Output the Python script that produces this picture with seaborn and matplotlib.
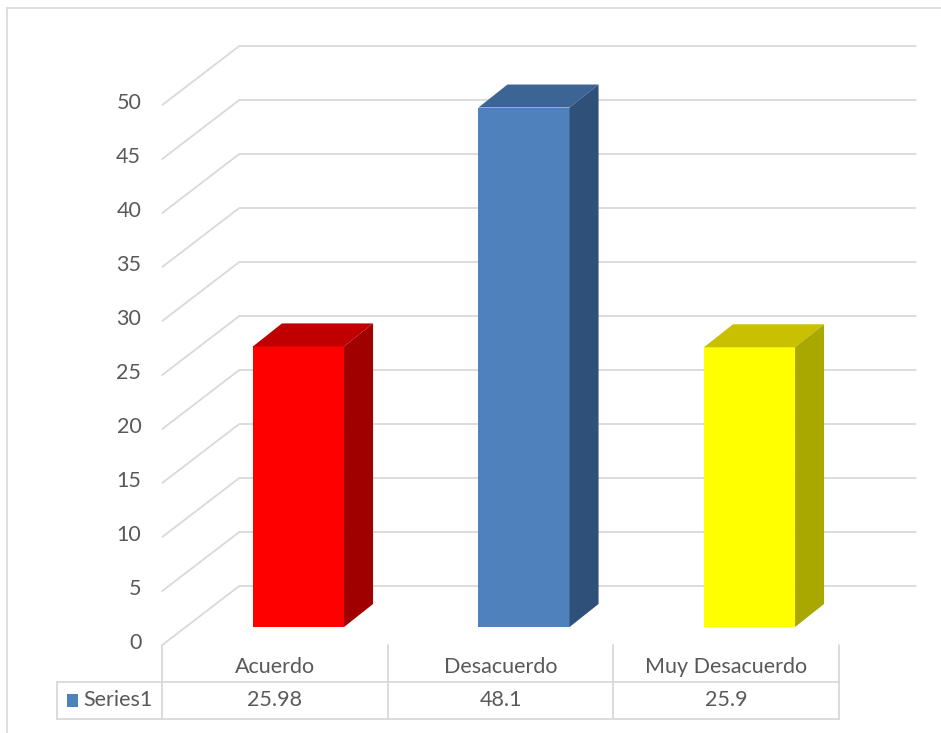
import matplotlib
matplotlib.use("Agg")
import matplotlib.pyplot as plt
import seaborn as sns
import pandas as pd
from matplotlib.patches import Polygon, Rectangle
from matplotlib.lines import Line2D

categories = ["Acuerdo", "Desacuerdo", "Muy Desacuerdo"]
values = [25.98, 48.1, 25.9]
value_labels = ["25.98", "48.1", "25.9"]
series_name = "Series1"
y_ticks = list(range(0, 55, 5))

front_colors = ["#FF0000", "#4F81BD", "#FFFF00"]
top_colors = ["#C00000", "#3C6494", "#C8C000"]
side_colors = ["#A00000", "#2F5079", "#A8A800"]
key_color = "#4F81BD"
grid_color = "#D9D9D9"
text_color = "#595959"
font_size = 15.5

sns.set_theme(style="white")
plt.rcParams["font.family"] = ["Lato", "DejaVu Sans"]

W, H = 941, 733
fig = plt.figure(figsize=(W / 100, H / 100), dpi=100)
fig.patch.set_facecolor("white")

# The axes span the front plane of the columns: x -0.5..2.5, y 0..50
ax_left, ax_bottom, ax_w, ax_h = 185.75, 106.0, 676.5, 540.0
ax = fig.add_axes([ax_left / W, ax_bottom / H, ax_w / W, ax_h / H])
df = pd.DataFrame({"cat": categories, "val": values})
sns.barplot(data=df, x="cat", y="val", hue="cat", palette=front_colors,
            width=0.404, ax=ax, legend=False, saturation=1, linewidth=0)
ax.set_xlim(-0.5, 2.5)
ax.set_ylim(0, 50)
ax.axis("off")

sx = ax_w / 3.0     # pixels per category unit
sy = ax_h / 50.0    # pixels per value unit


def shift(px, py):
    """Screen-pixel offset expressed in data units."""
    return px / sx, py / sy


def to_data(px, py_top):
    """Pixel position (from top-left of the figure) to data coordinates."""
    return (px - ax_left) / sx - 0.5, (H - ax_bottom - py_top) / sy


# oblique projection of the depth axis
back_dx, back_dy = shift(53.5, 41)     # back wall relative to the column front plane
front_dx, front_dy = shift(-23.5, -18)  # front floor edge relative to the column front plane
bar_dx, bar_dy = shift(29, 23)          # column depth

lw = 1.3
for v in y_ticks:
    xb0, yb = -0.5 + back_dx, v + back_dy
    xb1 = 2.5 + back_dx
    xf, yf = -0.5 + front_dx, v + front_dy
    ax.add_line(Line2D([xf, xb0, xb1], [yf, yb, yb], color=grid_color, lw=lw,
                       zorder=0.5, clip_on=False, solid_joinstyle="miter"))
    ax.text(xf - 21 / sx, yf + 2 / sy, str(v), ha="right", va="center",
            fontsize=font_size, color=text_color, clip_on=False)

# side and top faces of each column
for p, tc, sc in zip(ax.patches, top_colors, side_colors):
    x0, w, h = p.get_x(), p.get_width(), p.get_height()
    p.set_zorder(3)
    top = Polygon([(x0, h), (x0 + w, h), (x0 + w + bar_dx, h + bar_dy), (x0 + bar_dx, h + bar_dy)],
                  closed=True, facecolor=tc, edgecolor="none", zorder=3, clip_on=False)
    side = Polygon([(x0 + w, 0), (x0 + w, h), (x0 + w + bar_dx, h + bar_dy), (x0 + w + bar_dx, bar_dy)],
                   closed=True, facecolor=sc, edgecolor="none", zorder=3, clip_on=False)
    ax.add_patch(top)
    ax.add_patch(side)

# data table under the plot area
col_edges = [e + front_dx for e in (-0.5, 0.5, 1.5, 2.5)]
y_top = front_dy
_, y_mid = to_data(0, 682)
_, y_bot = to_data(0, 719)
x_first, _ = to_data(57, 0)
tkw = dict(color=grid_color, lw=lw, clip_on=False, zorder=1)
for xe in col_edges:
    ax.add_line(Line2D([xe, xe], [y_top, y_bot], **tkw))
ax.add_line(Line2D([x_first, col_edges[-1]], [y_mid, y_mid], **tkw))
ax.add_line(Line2D([x_first, col_edges[-1]], [y_bot, y_bot], **tkw))
ax.add_line(Line2D([x_first, x_first], [y_mid, y_bot], **tkw))

_, y_cat = to_data(0, 667)
_, y_val = to_data(0, 700)
for i, (cat, lab) in enumerate(zip(categories, value_labels)):
    xc = (col_edges[i] + col_edges[i + 1]) / 2
    ax.text(xc, y_cat, cat, ha="center", va="center", fontsize=font_size,
            color=text_color, clip_on=False)
    ax.text(xc, y_val, lab, ha="center", va="center", fontsize=font_size,
            color=text_color, clip_on=False)

kx0, ky0 = to_data(67, 707)
kx1, ky1 = to_data(78, 694)
ax.add_patch(Rectangle((kx0, ky0), kx1 - kx0, ky1 - ky0, facecolor=key_color,
                       edgecolor="none", clip_on=False))
sx0, _ = to_data(83, 0)
ax.text(sx0, y_val, series_name, ha="left", va="center", fontsize=font_size,
        color=text_color, clip_on=False)

# chart area border
fig.add_artist(Line2D([7 / W, 1.0], [1 - 8 / H, 1 - 8 / H], transform=fig.transFigure,
                      color=grid_color, lw=1.2))
fig.add_artist(Line2D([7 / W, 7 / W], [1 - 8 / H, 0.0], transform=fig.transFigure,
                      color=grid_color, lw=1.2))

fig.savefig("out.png", dpi=100, facecolor="white")
